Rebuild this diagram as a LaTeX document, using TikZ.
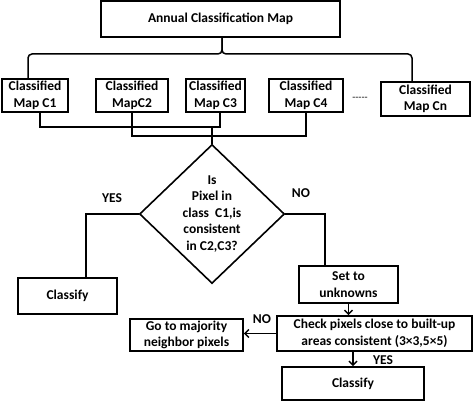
\documentclass[tikz,border=0pt]{standalone}
\usepackage{fontspec}
\setmainfont{Carlito}
\usepackage{tikz}
\usetikzlibrary{arrows,arrows.meta}
\usetikzlibrary{shapes,positioning,calc}
\tikzset{>={Straight Barb[length=4pt,width=8pt]},
  box/.style={draw,line width=1.6pt,inner sep=0pt,align=center,
    font=\fontsize{13.5}{16.5}\selectfont\bfseries},
  decision/.style={draw,diamond,line width=1.6pt,inner sep=0pt,
    minimum width=145pt,minimum height=139pt},
  lbl/.style={font=\fontsize{13.5}{16.5}\selectfont\bfseries},
  wire/.style={line width=1.5pt}}

\begin{document}
\begin{tikzpicture}[x=1pt,y=-1pt,line cap=round]

  \useasboundingbox (0,0) rectangle (474,403);


  \node [box,minimum width=239pt,minimum height=36pt] (annual) at (220.5,19) {Annual Classification Map};

  \node [box,minimum width=66pt,minimum height=33pt] (c1) at (35,95.5) {Classified\\Map C1};
  \node [box,minimum width=72pt,minimum height=33pt] (c2) at (132,95.5) {Classified\\MapC2};
  \node [box,minimum width=59pt,minimum height=33pt] (c3) at (215.5,95.5) {Classified\\Map C3};
  \node [box,minimum width=74pt,minimum height=33pt] (c4) at (306,95.5) {Classified\\Map C4};
  \node [box,minimum width=89pt,minimum height=34pt] (cn) at (425.5,99) {Classified\\Map Cn};
  \node [font=\fontsize{10}{12}\selectfont] (dots) at (360,99) {{-}{-}{-}{-}{-}};


  \coordinate (tip) at (222,37);
  \coordinate (lfoot) at ($(c1.north)+(-7,0)$);
  \coordinate (rfoot) at ($(cn.north)+(-13.5,0)$);
  \draw [wire,rounded corners=4pt] (lfoot) |- ($(tip)+(0,17)$) -- (tip);
  \draw [wire,rounded corners=4pt] (rfoot) |- ($(tip)+(0,17)$) -- (tip);


  \node [decision] (dec) at (212,214) {};
  \node [box,draw=none] (q) at (dec) {Is\\Pixel in\\class~~C1,is\\consistent\\in C2,C3?};

  \coordinate (j1) at (212,127);
  \coordinate (j2) at (212,136);
  \draw [wire] ($(c1.south)+(5,0)$) |- (j1) -| ($(c3.south)+(4.5,0)$);
  \draw [wire] (c2.south) |- (j2) -| (c4.south);
  \draw [wire] (j1) -- (dec.north);


  \node [box,minimum width=99pt,minimum height=36pt] (cls1) at (67.5,296) {Classify};
  \node [box,minimum width=99pt,minimum height=37pt] (unk) at (348.5,284.5) {Set to\\unknowns};
  \node [box,minimum width=195pt,minimum height=35pt] (check) at (374.5,333.5) {Check pixels close to built-up\\areas consistent (3×3,5×5)};
  \node [box,minimum width=113pt,minimum height=32pt] (major) at (186.5,335) {Go to majority\\neighbor pixels};
  \node [box,minimum width=142pt,minimum height=33pt] (cls2) at (353,383.5) {Classify};

  \draw [wire] (dec.west) -| ($(cls1.north)+(18.5,0)$);
  \draw [wire] (dec.east) -| ($(unk.north)+(-23.5,0)$);
  \draw [wire,->] (unk.south) -- (unk.south |- check.north);
  \draw [wire,->] (check.west) -- (check.west -| major.east);
  \draw [wire,->] (check.south -| cls2.north) -- (cls2.north);


  \node [lbl] (yes1) at (112,198) {YES};
  \node [lbl] (no1) at (301,193) {NO};
  \node [lbl] (no2) at (262,319) {NO};
  \node [lbl] (yes2) at (383,360) {YES};

\end{tikzpicture}
\end{document}
